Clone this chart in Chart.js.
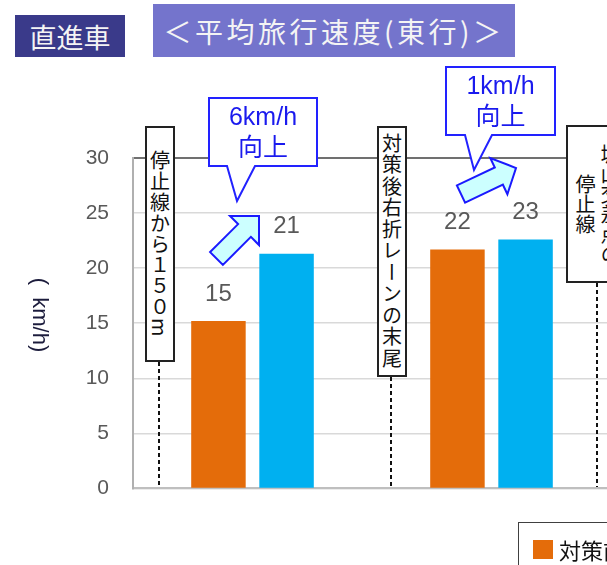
<!DOCTYPE html>
<html lang="ja"><head><meta charset="UTF-8"><title>平均旅行速度（東行）</title>
<script src="https://cdn.jsdelivr.net/npm/chart.js"></script>
<style>
  html,body{margin:0;padding:0;width:607px;height:565px;overflow:hidden;background:#fff;}
  body{position:relative;font-family:"Noto Sans CJK JP","Noto Sans",sans-serif;}
  .abs{position:absolute;}
  #wrap{left:0;top:0;width:611px;height:525px;}
  .tag{color:#f4f4f4;display:flex;align-items:center;justify-content:center;white-space:nowrap;}
  #tag1{left:15px;top:15px;width:110px;height:42px;background:#3a3a8a;font-size:27px;}
  #tag2{left:153px;top:4px;width:362px;height:53px;background:#7474cc;font-size:28px;letter-spacing:3.5px;}
  .vbox{background:#fff;border:2px solid #222;box-sizing:border-box;writing-mode:vertical-rl;
        display:flex;align-items:center;justify-content:center;text-align:center;color:#111;
        font-size:20px;line-height:25px;}
  #b1{left:145px;top:126px;width:30px;height:236px;letter-spacing:1px;}
  #b2{left:377px;top:126px;width:30px;height:251px;letter-spacing:1.5px;}
  #b3{left:566px;top:125px;width:64px;height:158px;}
  #ytitle{left:40px;top:315px;color:#1c1c3c;font-size:22px;white-space:pre;
          transform:translate(-50%,-50%) rotate(90deg);font-family:"Liberation Sans","Noto Sans",sans-serif;}
  #legend{left:518px;top:522px;width:220px;height:70px;border:1.5px solid #404040;background:#fff;
          font-size:22px;color:#111;}
  #legend .it{position:absolute;top:10px;display:flex;align-items:center;white-space:nowrap;}
  #legend .sw{display:inline-block;width:20px;height:19px;margin-right:6px;}
</style>
</head><body>

<div id="wrap" class="abs"><canvas id="c"></canvas></div>
<svg id="ov" class="abs" width="607" height="565" style="left:0;top:0"></svg>

<div id="tag1" class="abs tag">直進車</div>
<div id="tag2" class="abs tag">＜平均旅行速度(東行)＞</div>

<div id="b1" class="abs vbox">停止線から１５０m</div>
<div id="b2" class="abs vbox">対策後右折レーンの末尾</div>
<div id="b3" class="abs vbox">城山交差点の<br>停止線</div>

<div id="ytitle" class="abs">(  km/h)</div>

<div id="legend" class="abs"></div>

<script>
// data
const categories  = ['停止線から150m～対策後右折レーンの末尾', '対策後右折レーンの末尾～城山交差点の停止線'];
const seriesNames = ['対策前', '対策後'];
const beforeVals  = [15.2, 21.7];
const afterVals   = [21.3, 22.6];
const yTicks      = [0, 5, 10, 15, 20, 25, 30];
const callouts    = ['6km/h', '1km/h'];

const ORANGE = '#e46c0a';
const BLUE   = '#00b0f0';

// value labels above the bars
const valueLabels = {
  id: 'valueLabels',
  afterDatasetsDraw(chart) {
    const ctx = chart.ctx;
    ctx.save();
    ctx.fillStyle = '#595959';
    ctx.font = '24px "Liberation Sans", "Noto Sans", sans-serif';
    ctx.textAlign = 'center';
    ctx.textBaseline = 'middle';
    chart.data.datasets.forEach((ds, i) => {
      chart.getDatasetMeta(i).data.forEach((bar, j) => {
        ctx.fillText(String(Math.round(ds.data[j])), bar.x, bar.y - 27);
      });
    });
    ctx.restore();
  }
};

new Chart(document.getElementById('c').getContext('2d'), {
  type: 'bar',
  data: {
    labels: categories,
    datasets: [
      { label: seriesNames[0], data: beforeVals, backgroundColor: ORANGE },
      { label: seriesNames[1], data: afterVals,  backgroundColor: BLUE }
    ]
  },
  options: {
    responsive: true,
    maintainAspectRatio: false,
    animation: false,
    categoryPercentage: 0.57,
    barPercentage: 0.8,
    layout: { padding: { top: 158, bottom: 12, left: 0, right: 0 } },
    plugins: { legend: { display: false }, tooltip: { enabled: false } },
    scales: {
      x: {
        ticks: { display: false },
        grid: { display: false },
        border: { color: '#bfbfbf', width: 2 },
        afterFit(s) { s.height = 0; }
      },
      y: {
        min: yTicks[0], max: yTicks[yTicks.length - 1],
        afterBuildTicks(s) { s.ticks = yTicks.map(v => ({ value: v })); },
        ticks: {
          color: '#595959', padding: 24,
          font: { size: 21, family: '"Liberation Sans", "Noto Sans", sans-serif' }
        },
        grid: {
          drawTicks: false,
          color: c => (c.tick && c.tick.value === 30) ? '#707070' : '#d9d9d9',
          lineWidth: c => (c.tick && c.tick.value === 30) ? 2 : 1.5
        },
        border: { color: '#b0b0b0', width: 2 },
        afterFit(s) { s.width = 133; }
      }
    }
  },
  plugins: [valueLabels]
});

// legend (clipped at the right edge like the original)
const lg = document.getElementById('legend');
[[seriesNames[0], ORANGE, 14], [seriesNames[1], BLUE, 110]].forEach(([t, col, x]) => {
  const d = document.createElement('div');
  d.className = 'it';
  d.style.left = x + 'px';
  d.innerHTML = '<span class="sw" style="background:' + col + '"></span>' + t;
  lg.appendChild(d);
});

// overlay: dashed section lines, callouts and arrows
const NS = 'http://www.w3.org/2000/svg';
const svg = document.getElementById('ov');
function el(tag, attrs, text) {
  const e = document.createElementNS(NS, tag);
  for (const k in attrs) e.setAttribute(k, attrs[k]);
  if (text) e.textContent = text;
  svg.appendChild(e);
  return e;
}

[[159, 362], [391, 377], [597, 283]].forEach(([x, y0]) => {
  el('line', { x1: x, y1: y0, x2: x, y2: 487, stroke: '#111', 'stroke-width': 2, 'stroke-dasharray': '4 3' });
});

function callout(x0, y0, x1, y1, tl, tip, tr, txt) {
  const d = `M${x0},${y0} H${x1} V${y1} H${tr} L${tip[0]},${tip[1]} L${tl},${y1} H${x0} Z`;
  el('path', { d, fill: '#fff', stroke: '#2222ff', 'stroke-width': 2, 'stroke-linejoin': 'miter' });
  const cx = (x0 + x1) / 2;
  el('text', { x: cx, y: y0 + 20, fill: '#1a1aee', 'font-size': 25, 'text-anchor': 'middle',
    'dominant-baseline': 'middle', 'font-family': '"Liberation Sans", "Noto Sans", sans-serif' }, txt);
  el('text', { x: cx, y: y0 + 51, fill: '#1a1aee', 'font-size': 25, 'text-anchor': 'middle',
    'dominant-baseline': 'middle', 'font-family': '"Noto Sans CJK JP", sans-serif' }, '向上');
}
callout(209, 98, 317, 166, 227, [237, 201], 255, callouts[0]);
callout(446, 67, 555, 135, 465, [474, 170], 492, callouts[1]);

function arrow(tx, ty, px, py, sw, hw, hl) {
  const L = Math.hypot(px - tx, py - ty);
  const ux = (px - tx) / L, uy = (py - ty) / L, nx = -uy, ny = ux;
  const bx = px - ux * hl, by = py - uy * hl;
  const p = (x, y, k) => (x + nx * k).toFixed(1) + ',' + (y + ny * k).toFixed(1);
  const pts = [p(tx, ty, sw / 2), p(bx, by, sw / 2), p(bx, by, hw / 2), p(px, py, 0),
               p(bx, by, -hw / 2), p(bx, by, -sw / 2), p(tx, ty, -sw / 2)].join(' ');
  el('polygon', { points: pts, fill: '#ccffff', stroke: '#1a1aff', 'stroke-width': 2, 'stroke-linejoin': 'miter' });
}
arrow(216.5, 258.5, 259, 216, 18, 41, 20.5);
arrow(461, 194, 516, 168, 19, 40, 19);
</script>
</body></html>
